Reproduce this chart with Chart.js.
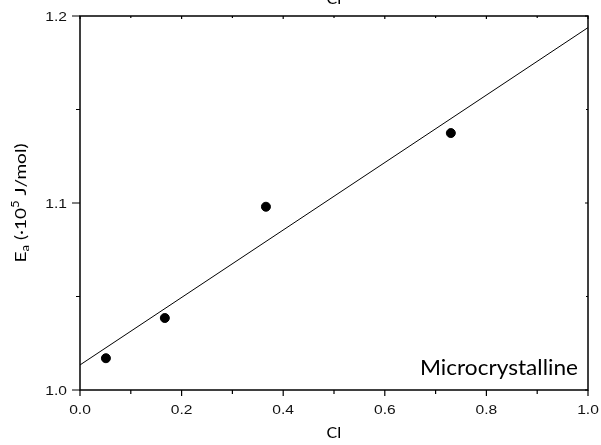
<!DOCTYPE html>
<html>
<head>
<meta charset="utf-8">
<script src="https://cdn.jsdelivr.net/npm/chart.js@4/dist/chart.umd.min.js"></script>
<style>
  html, body { margin: 0; padding: 0; background: #fff; }
  #wrap { width: 601px; height: 445px; position: relative; }
</style>
</head>
<body>
<div id="wrap"><canvas id="c" width="601" height="445"></canvas></div>
<script>
// ---- data ----
const ciValues = [0.051, 0.167, 0.366, 0.730];
const eaValues = [1.017, 1.0385, 1.098, 1.1374];
const fitX = [0, 1];
const fitY = [1.0134, 1.1938];
const xMajorTicks = [0, 0.2, 0.4, 0.6, 0.8, 1.0];
const xMinorTicks = [0.1, 0.3, 0.5, 0.7, 0.9];
const yMajorTicks = [1.0, 1.1, 1.2];
const yMinorTicks = [1.05, 1.15];
const xTitle = 'CI';
const yTitleMain = 'E';
const yTitleSub = 'a';
const yTitleMid = ' (·10';
const yTitleSup = '5';
const yTitleEnd = ' J/mol)';
const annotation = 'Microcrystalline';

const TICK_FONT = "13px 'Liberation Sans', Arial, sans-serif";
const TITLE_FAMILY = 'Lato, "Open Sans", sans-serif';
const fmt = v => Number(v).toFixed(1);

const framePlugin = {
  id: 'frame',
  afterDraw(chart) {
    const ctx = chart.ctx;
    const a = chart.chartArea;
    const xs = chart.scales.x, ys = chart.scales.y;
    ctx.save();
    ctx.strokeStyle = '#000';
    ctx.lineWidth = 1.5;
    ctx.strokeRect(a.left, a.top, a.right - a.left, a.bottom - a.top);
    ctx.lineWidth = 1.2;
    ctx.beginPath();
    xMajorTicks.forEach(v => {
      const px = xs.getPixelForValue(v);
      ctx.moveTo(px, a.bottom); ctx.lineTo(px, a.bottom + 6);
      ctx.moveTo(px, a.top); ctx.lineTo(px, a.top + 3);
    });
    xMinorTicks.forEach(v => {
      const px = xs.getPixelForValue(v);
      ctx.moveTo(px, a.bottom); ctx.lineTo(px, a.bottom + 4);
      ctx.moveTo(px, a.top); ctx.lineTo(px, a.top + 2);
    });
    yMajorTicks.forEach(v => {
      const py = ys.getPixelForValue(v);
      ctx.moveTo(a.left, py); ctx.lineTo(a.left - 8, py);
      ctx.moveTo(a.right, py); ctx.lineTo(a.right - 3, py);
    });
    yMinorTicks.forEach(v => {
      const py = ys.getPixelForValue(v);
      ctx.moveTo(a.left, py); ctx.lineTo(a.left - 4, py);
      ctx.moveTo(a.right, py); ctx.lineTo(a.right - 2, py);
    });
    ctx.stroke();

    ctx.fillStyle = '#111';
    // tick labels from the scales' own ticks (widened like the reference)
    const SX = 1.2;
    ctx.font = TICK_FONT;
    ctx.textBaseline = 'alphabetic';
    ctx.textAlign = 'center';
    xs.ticks.forEach(t => {
      const px = xs.getPixelForValue(t.value);
      ctx.save();
      ctx.translate(px, a.bottom + 24);
      ctx.scale(SX, 1);
      ctx.fillText(fmt(t.value), 0, 0);
      ctx.restore();
    });
    ctx.textAlign = 'right';
    ys.ticks.forEach(t => {
      const py = ys.getPixelForValue(t.value);
      ctx.save();
      ctx.translate(a.left - 13, py + 4.5);
      ctx.scale(SX, 1);
      ctx.fillText(fmt(t.value), 0, 0);
      ctx.restore();
    });

    ctx.fillStyle = '#000';
    const cx = (a.left + a.right) / 2;
    ctx.font = '16px ' + TITLE_FAMILY;
    ctx.textAlign = 'center';
    ctx.fillText(xTitle, cx, 438);
    ctx.fillText(xTitle, cx, 4);

    // annotation, slightly widened like the reference
    ctx.font = '21px ' + TITLE_FAMILY;
    ctx.textAlign = 'left';
    const w = ctx.measureText(annotation).width;
    const sx = 158 / w;
    ctx.save();
    ctx.translate(a.right - 10 - 158, 375);
    ctx.scale(sx, 1);
    ctx.fillText(annotation, 0, 0);
    ctx.restore();

    // y title with subscript / superscript
    ctx.save();
    ctx.translate(26, 203);
    ctx.rotate(-Math.PI / 2);
    const big = '16px ' + TITLE_FAMILY;
    const small = '11px ' + TITLE_FAMILY;
    const parts = [
      [yTitleMain, big, 0],
      [yTitleSub, small, 3],
      [yTitleMid, big, 0],
      [yTitleSup, small, -7],
      [yTitleEnd, big, 0]
    ];
    let total = 0;
    parts.forEach(p => { ctx.font = p[1]; total += ctx.measureText(p[0]).width; });
    const k = 119 / total;
    ctx.scale(k, 1);
    let x = -total / 2;
    parts.forEach(p => {
      ctx.font = p[1];
      ctx.fillText(p[0], x, p[2]);
      x += ctx.measureText(p[0]).width;
    });
    ctx.restore();
    ctx.restore();
  }
};

new Chart(document.getElementById('c'), {
  type: 'scatter',
  data: {
    datasets: [
      {
        label: 'fit',
        type: 'line',
        data: fitX.map((x, i) => ({ x: x, y: fitY[i] })),
        borderColor: '#000',
        borderWidth: 1,
        pointRadius: 0,
        fill: false,
        order: 2
      },
      {
        label: 'data',
        data: ciValues.map((x, i) => ({ x: x, y: eaValues[i] })),
        backgroundColor: '#000',
        borderColor: '#000',
        pointRadius: 4.5,
        order: 1
      }
    ]
  },
  options: {
    responsive: false,
    animation: false,
    events: [],
    layout: { padding: { top: 16, right: 13, left: 0, bottom: 0 } },
    plugins: { legend: { display: false }, tooltip: { enabled: false } },
    scales: {
      x: {
        type: 'linear', min: 0, max: 1,
        afterFit(s) { s.height = 55; s.paddingLeft = 0; s.paddingRight = 0; },
        afterBuildTicks(s) { s.ticks = xMajorTicks.map(v => ({ value: v })); },
        grid: { display: false, drawTicks: false, tickLength: 0 },
        border: { display: false },
        ticks: { display: false }
      },
      y: {
        type: 'linear', min: 1.0, max: 1.2,
        afterFit(s) { s.width = 80; s.paddingTop = 0; s.paddingBottom = 0; },
        afterBuildTicks(s) { s.ticks = yMajorTicks.map(v => ({ value: v })); },
        grid: { display: false, drawTicks: false, tickLength: 0 },
        border: { display: false },
        ticks: { display: false }
      }
    }
  },
  plugins: [framePlugin]
});
</script>
</body>
</html>
